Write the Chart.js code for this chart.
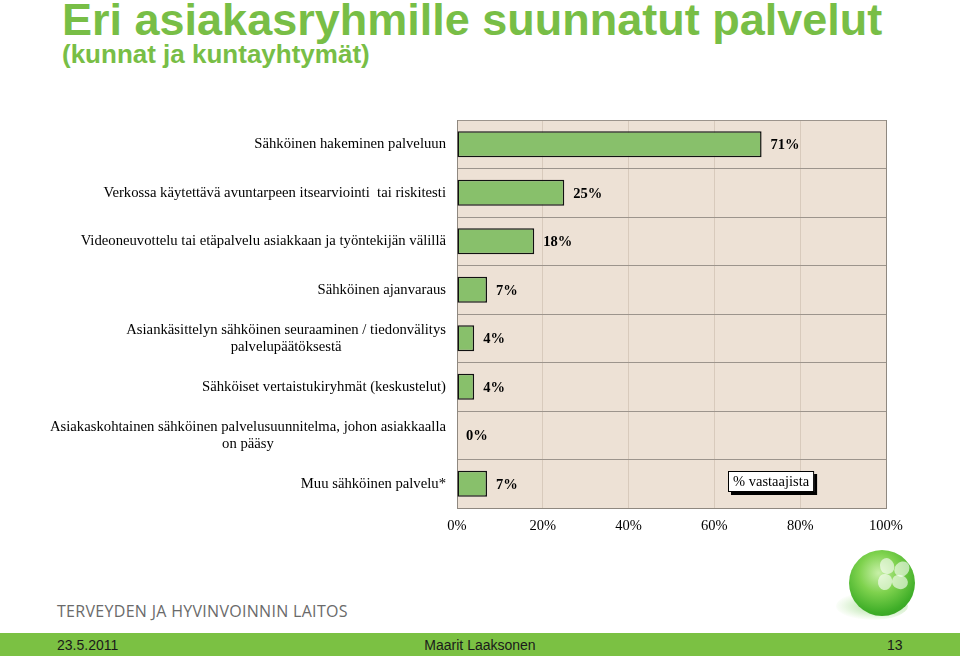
<!DOCTYPE html>
<html>
<head>
<meta charset="utf-8">
<script src="https://cdn.jsdelivr.net/npm/chart.js@4/dist/chart.umd.min.js"></script>
<style>
  html,body{margin:0;padding:0;background:#fff;}
  body{width:960px;height:656px;position:relative;overflow:hidden;font-family:"Liberation Sans",Arial,sans-serif;}
  #title{position:absolute;left:62px;top:-5px;font-family:"Liberation Sans",Arial,sans-serif;font-weight:bold;font-size:45px;color:#78be46;white-space:nowrap;line-height:1.117;}
  #subtitle{position:absolute;left:62px;top:40px;font-family:"Liberation Sans",Arial,sans-serif;font-weight:bold;font-size:26px;color:#78be46;white-space:nowrap;line-height:1.117;}
  #wrap{position:absolute;left:0;top:100px;width:960px;height:445px;}
  #org{position:absolute;left:57px;top:600px;font-family:"Open Sans",sans-serif;font-size:16px;color:#6a6a6a;letter-spacing:0.3px;white-space:nowrap;}
  #footer{position:absolute;left:0;top:633px;width:960px;height:23px;background:#7bc143;}
  #footer span{position:absolute;top:4px;font-family:"Liberation Sans Narrow","Liberation Sans",sans-serif;font-size:14px;color:#1a1a1a;white-space:nowrap;}
  #logoShadow{position:absolute;left:836px;top:592px;width:72px;height:28px;border-radius:50%;background:radial-gradient(ellipse at 60% 50%, rgba(90,190,60,0.55), rgba(150,220,120,0.15) 60%, rgba(255,255,255,0) 75%);}
  #logo{position:absolute;left:849px;top:550px;width:66px;height:66px;border-radius:50%;background:radial-gradient(circle at 45% 35%, #c8f0a8 0%, #7fd24e 35%, #3fae28 70%, #2a8f1c 100%);}
  .petal{position:absolute;width:14px;height:16px;border-radius:50% 50% 45% 45%;background:rgba(255,255,255,0.6);}
</style>
</head>
<body>
<div id="title">Eri asiakasryhmille suunnatut palvelut</div>
<div id="subtitle">(kunnat ja kuntayhtymät)</div>
<div id="wrap"><canvas id="c" width="960" height="445"></canvas></div>
<div id="org">TERVEYDEN JA HYVINVOINNIN LAITOS</div>
<div id="logoShadow"></div>
<div id="logo"></div>
<div class="petal" style="left:880px;top:558px;transform:rotate(-20deg)"></div>
<div class="petal" style="left:895px;top:561px;transform:rotate(40deg)"></div>
<div class="petal" style="left:893px;top:574px;transform:rotate(110deg)"></div>
<div class="petal" style="left:878px;top:574px;transform:rotate(190deg)"></div>
<div id="footer">
  <span style="left:57px">23.5.2011</span>
  <span style="left:0;width:960px;text-align:center">Maarit Laaksonen</span>
  <span style="left:887px">13</span>
</div>
<script>
const categories = [
  ["Sähköinen hakeminen palveluun"],
  ["Verkossa käytettävä avuntarpeen itsearviointi  tai riskitesti"],
  ["Videoneuvottelu tai etäpalvelu asiakkaan ja työntekijän välillä"],
  ["Sähköinen ajanvaraus"],
  ["Asiankäsittelyn sähköinen seuraaminen / tiedonvälitys", "palvelupäätöksestä"],
  ["Sähköiset vertaistukiryhmät (keskustelut)"],
  ["Asiakaskohtainen sähköinen palvelusuunnitelma, johon asiakkaalla", "on pääsy"],
  ["Muu sähköinen palvelu*"]
];
const values = [71, 25, 18, 7, 4, 4, 0, 7];
const tickLabels = ["0%", "20%", "40%", "60%", "80%", "100%"];
const seriesLabel = "% vastaajista";

const SERIF = '"Liberation Serif","Times New Roman",serif';

const plotBg = {
  id: 'plotBg',
  beforeDraw(chart) {
    const {ctx, chartArea: a} = chart;
    ctx.save();
    ctx.fillStyle = '#ede1d5';
    ctx.fillRect(a.left, a.top, a.right - a.left, a.bottom - a.top);
    ctx.restore();
  }
};

const catLabels = {
  id: 'catLabels',
  afterDraw(chart) {
    const {ctx, chartArea: a} = chart;
    const y = chart.scales.y;
    ctx.save();
    ctx.font = '14.7px ' + SERIF;
    ctx.fillStyle = '#000';
    ctx.textBaseline = 'middle';
    ctx.textAlign = 'center';
    const lh = 17;
    chart.data.labels.forEach((lines, i) => {
      const cy = y.getPixelForTick(i);
      const w = Math.max(...lines.map(l => ctx.measureText(l).width));
      const right = a.left - 11;
      const cx = right - w / 2;
      const y0 = cy - (lines.length - 1) * lh / 2;
      lines.forEach((l, k) => ctx.fillText(l, cx, y0 + k * lh));
    });
    ctx.restore();
  }
};

const valueLabels = {
  id: 'valueLabels',
  afterDatasetsDraw(chart) {
    const {ctx} = chart;
    const meta = chart.getDatasetMeta(0);
    ctx.save();
    ctx.font = 'bold 14.5px ' + SERIF;
    ctx.fillStyle = '#000';
    ctx.textBaseline = 'middle';
    ctx.textAlign = 'left';
    meta.data.forEach((bar, i) => {
      ctx.fillText(chart.data.datasets[0].data[i] + '%', bar.x + 9, bar.y + 1);
    });
    ctx.restore();
  }
};

const boxLegend = {
  id: 'boxLegend',
  afterDraw(chart) {
    const {ctx, chartArea: a} = chart;
    const text = chart.data.datasets[0].label;
    ctx.save();
    ctx.font = '14.5px ' + SERIF;
    const w = ctx.measureText(text).width + 10;
    const h = 21;
    const x = a.right - 158;
    const yy = a.bottom - 37;
    ctx.fillStyle = '#000';
    ctx.fillRect(x + 3, yy + 3, w, h);
    ctx.fillStyle = '#fff';
    ctx.fillRect(x, yy, w, h);
    ctx.strokeStyle = '#000';
    ctx.lineWidth = 1;
    ctx.strokeRect(x + 0.5, yy + 0.5, w - 1, h - 1);
    ctx.fillStyle = '#000';
    ctx.textBaseline = 'middle';
    ctx.fillText(text, x + 5, yy + h / 2 + 1);
    ctx.restore();
  }
};

new Chart(document.getElementById('c'), {
  type: 'bar',
  data: {
    labels: categories,
    datasets: [{
      label: seriesLabel,
      data: values,
      backgroundColor: '#88c06b',
      borderColor: '#111',
      borderWidth: 1.5,
      borderSkipped: false,
      categoryPercentage: 1,
      barPercentage: 0.54
    }]
  },
  options: {
    indexAxis: 'y',
    responsive: false,
    animation: false,
    layout: {padding: {left: 457, right: 74, top: 20, bottom: 7}},
    plugins: {legend: {display: false}, tooltip: {enabled: false}},
    scales: {
      x: {
        min: 0, max: 100,
        ticks: {
          stepSize: 20,
          padding: 9,
          color: '#000',
          font: {family: SERIF, size: 14.5},
          callback: (v, i) => tickLabels[i]
        },
        grid: {
          drawTicks: false,
          color: ctx => (ctx.tick && ctx.tick.value === 100) ? '#8f8880' : '#d8cabc',
          lineWidth: 1
        },
        border: {color: '#8f8880', width: 1},
        afterFit: s => { s.height = 30; }
      },
      y: {
        ticks: {display: false},
        grid: {drawTicks: false, color: '#9c948c', lineWidth: 1},
        border: {color: '#8f8880', width: 1},
        afterFit: s => { s.width = 0; }
      }
    }
  },
  plugins: [plotBg, catLabels, valueLabels, boxLegend]
});
</script>
</body>
</html>
